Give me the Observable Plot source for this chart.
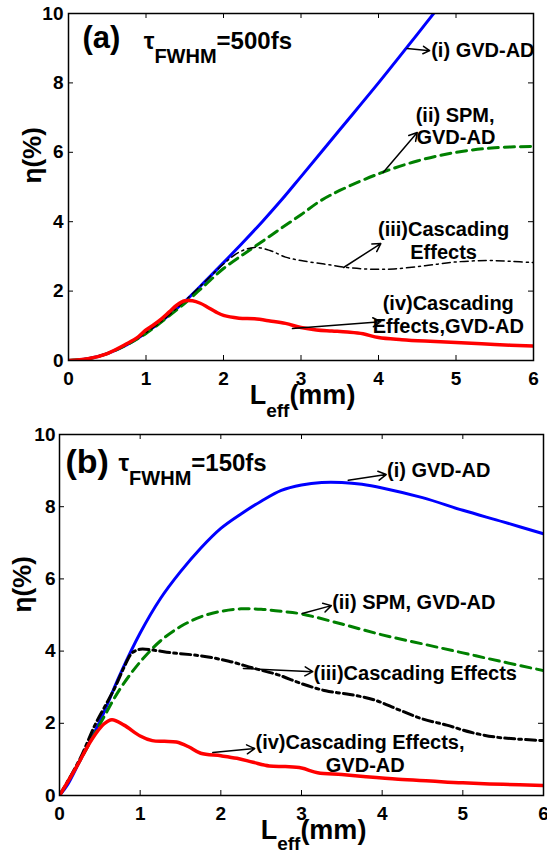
<!DOCTYPE html>
<html><head><meta charset="utf-8">
<script src="https://cdn.jsdelivr.net/npm/d3@7"></script>
<script src="https://cdn.jsdelivr.net/npm/@observablehq/plot@0.6"></script>
<style>
body{margin:0;background:#fff;width:547px;height:851px;position:relative;overflow:hidden}
#a,#b{position:absolute;left:0}
#a{top:0}
#b{top:420px}
</style></head><body><div id="a"></div><div id="b"></div>
<script>
// ---------- ticks ----------
const xTicks = [0, 1, 2, 3, 4, 5, 6];
const yTicks = [0, 2, 4, 6, 8, 10];

// ---------- panel (a) tau = 500 fs ----------
const aBlueX  = [0,0.25,0.5,0.75,1,1.25,1.5,1.75,2,2.25,2.5,2.75,3,3.5,4,4.5,4.8];
const aBlueY  = [0,0.05,0.2,0.45,0.8,1.22,1.7,2.25,2.82,3.4,4.0,4.63,5.3,6.65,8.0,9.4,10.25];
const aGreenX = [0,0.25,0.5,0.75,1,1.25,1.5,1.75,2,2.25,2.5,2.75,3,3.25,3.5,4,4.5,5,5.5,6];
const aGreenY = [0,0.05,0.2,0.45,0.78,1.2,1.65,2.15,2.65,3.05,3.43,3.82,4.2,4.6,4.9,5.38,5.75,6.0,6.13,6.17];
const aBlackX = [0,0.25,0.5,0.75,1,1.25,1.5,1.75,2,2.2,2.4,2.6,2.8,3,3.3,3.6,3.9,4.2,4.6,5,5.4,5.7,6];
const aBlackY = [0,0.05,0.2,0.45,0.8,1.22,1.72,2.25,2.78,3.12,3.26,3.17,2.98,2.88,2.78,2.68,2.63,2.64,2.73,2.84,2.88,2.86,2.82];
const aRedX   = [0,0.25,0.5,0.75,0.9,1,1.1,1.2,1.3,1.4,1.5,1.6,1.7,1.8,1.9,2,2.2,2.4,2.6,2.8,3,3.2,3.4,3.6,3.8,4,4.3,4.6,5,5.5,6];
const aRedY   = [0,0.05,0.2,0.48,0.68,0.88,1.03,1.2,1.4,1.6,1.72,1.72,1.65,1.53,1.4,1.3,1.22,1.2,1.14,1.07,0.95,0.88,0.85,0.82,0.77,0.66,0.6,0.56,0.52,0.46,0.42];

const aLabelText = ["(i) GVD-AD", "(ii) SPM,", "GVD-AD", "(iii)Cascading", "Effects", "(iv)Cascading", "Effects,GVD-AD"];
const aLabelX    = [4.68, 4.48, 4.49, 4.84, 4.84, 4.9, 4.9];
const aLabelY    = [8.93, 7.06, 6.43, 3.78, 3.11, 1.64, 0.98];
const aLabelAnchor = ["start", "start", "start", "middle", "middle", "middle", "middle"];
const aArrowX1 = [4.37, 4.06, 3.55, 2.89];
const aArrowY1 = [8.99, 5.42, 2.68, 0.92];
const aArrowX2 = [4.66, 4.5, 4.03, 4.03];
const aArrowY2 = [8.93, 6.57, 3.37, 1.12];

// ---------- panel (b) tau = 150 fs ----------
const bBlueX  = [0,0.1,0.25,0.5,0.75,1,1.25,1.5,1.75,2,2.25,2.5,2.75,3,3.25,3.5,3.75,4,4.5,5,5.5,6];
const bBlueY  = [0,0.3,0.95,2.05,3.35,4.5,5.45,6.2,6.85,7.4,7.8,8.15,8.45,8.6,8.67,8.67,8.62,8.52,8.25,7.9,7.58,7.25];
const bGreenX = [0,0.25,0.5,0.75,1,1.25,1.5,1.75,2,2.25,2.5,2.75,3,3.5,4,4.5,5,5.5,6];
const bGreenY = [0,0.95,1.97,2.95,3.7,4.28,4.68,4.95,5.1,5.17,5.16,5.1,5.03,4.75,4.45,4.2,3.95,3.7,3.46];
const bBlackX = [0,0.25,0.45,0.6,0.7,0.8,0.9,1,1.15,1.4,1.75,2.1,2.4,2.7,3,3.3,3.6,3.9,4.2,4.5,4.8,5.1,5.4,5.7,6];
const bBlackY = [0,1.0,2.0,2.62,3.05,3.55,3.95,4.05,4.03,3.95,3.87,3.72,3.53,3.35,3.1,2.9,2.8,2.65,2.38,2.12,1.95,1.75,1.62,1.56,1.52];
const bRedX   = [0,0.2,0.4,0.55,0.65,0.8,1,1.15,1.3,1.45,1.6,1.75,2,2.2,2.4,2.6,2.8,3,3.2,3.5,3.8,4.2,4.6,5,5.5,6];
const bRedY   = [0,0.75,1.55,1.98,2.1,1.95,1.65,1.52,1.5,1.48,1.35,1.17,1.1,1.03,0.92,0.82,0.8,0.76,0.63,0.58,0.52,0.45,0.4,0.35,0.31,0.28];

const bLabelText = ["(i) GVD-AD", "(ii) SPM, GVD-AD", "(iii)Cascading Effects", "(iv)Cascading Effects,", "GVD-AD"];
const bLabelX    = [4.06, 3.38, 3.15, 2.43, 3.79];
const bLabelY    = [9.0, 5.35, 3.38, 1.47, 0.83];
const bLabelAnchor = ["start", "start", "start", "start", "middle"];
const bArrowX1 = [3.58, 3.01, 2.28, 1.9];
const bArrowY1 = [8.73, 5.04, 3.52, 1.19];
const bArrowX2 = [4.05, 3.37, 3.14, 2.42];
const bArrowY2 = [8.89, 5.26, 3.43, 1.30];

const yLabel = "η(%)";
const xLabel = "L_{eff}(mm)";

const BLUE = "#0000ff", GREEN = "#008000", RED = "#ff0000", BLACK = "#000000";

function pts(X, Y) { return X.map((x, i) => ({x, y: Y[i]})); }
function rows(T, X, Y, A) { return T.map((t, i) => ({t, x: X[i], y: Y[i], a: A[i]})); }
function arrows(X1, Y1, X2, Y2) { return X1.map((x1, i) => ({x1, y1: Y1[i], x2: X2[i], y2: Y2[i]})); }

function subscriptify(svg, specs) {
  svg.querySelectorAll("text").forEach(t => {
    const s = t.textContent;
    const m = /^(.*?)_\{(.*?)\}(.*)$/.exec(s);
    if (!m || t.children.length) return;
    const spec = specs[s];
    if (!spec) return;
    t.textContent = "";
    const ns = "http://www.w3.org/2000/svg";
    const t1 = document.createElementNS(ns, "tspan"); t1.textContent = m[1];
    const t2 = document.createElementNS(ns, "tspan"); t2.textContent = m[2];
    t2.setAttribute("font-size", spec.sub); t2.setAttribute("dy", spec.shift);
    const t3 = document.createElementNS(ns, "tspan"); t3.textContent = m[3];
    t3.setAttribute("dy", -spec.shift);
    t.append(t1, t2, t3);
  });
}

function panel(o) {
  const ph = o.height - o.mt - o.mb, pw = 547 - o.ml - o.mr;
  const marks = [];
  for (const s of o.series) {
    marks.push(Plot.line(pts(s.X, s.Y), {x: "x", y: "y", stroke: s.color, strokeWidth: s.w,
      strokeDasharray: s.dash, curve: "catmull-rom", clip: true}));
  }
  marks.push(
    Plot.frame({stroke: "black", strokeWidth: 1.5}),
    Plot.tickX(xTicks, {x: d => d, insetTop: ph - 5, stroke: "black", strokeWidth: 1}),
    Plot.tickX(xTicks, {x: d => d, insetBottom: ph - 5, stroke: "black", strokeWidth: 1}),
    Plot.tickY(yTicks, {y: d => d, insetRight: pw - 5, stroke: "black", strokeWidth: 1}),
    Plot.tickY(yTicks, {y: d => d, insetLeft: pw - 5, stroke: "black", strokeWidth: 1}),
    Plot.axisX({ticks: xTicks, tickSize: 0, tickPadding: o.xPad, fontSize: 19, fontWeight: "bold", label: null, tickFormat: d => String(d)}),
    Plot.axisY({ticks: yTicks, tickSize: 0, tickPadding: o.yPad, fontSize: 19, fontWeight: "bold", label: null, tickFormat: d => String(d)}),
    Plot.arrow(o.arrows, {x1: "x1", y1: "y1", x2: "x2", y2: "y2", stroke: "black", strokeWidth: 1.5, headLength: 9}),
    Plot.text(o.labels.filter(d => d.a === "start"), {x: "x", y: "y", text: "t", textAnchor: "start", fontSize: 20, fontWeight: "bold", fill: "black"}),
    Plot.text(o.labels.filter(d => d.a === "middle"), {x: "x", y: "y", text: "t", textAnchor: "middle", fontSize: 20, fontWeight: "bold", fill: "black"}),
    Plot.text([o.tag], {x: d => d.x, y: d => d.y, text: d => d.t, textAnchor: "start", lineAnchor: "bottom", fontSize: o.tagSize, fontWeight: "bold"}),
    Plot.text([o.tau], {x: d => d.x, y: d => d.y, text: d => d.t, textAnchor: "start", lineAnchor: "bottom", fontSize: 24, fontWeight: "bold"}),
    Plot.text([yLabel], {frameAnchor: "left", rotate: -90, dx: o.ylDx, dy: o.ylDy, lineAnchor: "bottom", fontSize: 26, fontWeight: "bold"}),
    Plot.text([xLabel], {frameAnchor: "bottom", dx: o.xlDx, dy: o.xlDy, lineAnchor: "bottom", textAnchor: "middle", fontSize: 27, fontWeight: "bold"})
  );
  const svg = Plot.plot({
    width: 547, height: o.height,
    marginTop: o.mt, marginBottom: o.mb, marginLeft: o.ml, marginRight: o.mr,
    x: {domain: [0, 6], label: null},
    y: {domain: [0, 10], label: null},
    style: {fontFamily: "'Liberation Sans', Arial, sans-serif", fontWeight: "bold", fontSize: "19px", overflow: "visible", background: "white", color: "black"},
    marks
  });
  subscriptify(svg, {
    [xLabel]: {sub: 19, shift: o.xSubShift},
    [o.tau.t]: {sub: 20, shift: 14}
  });
  document.getElementById(o.el).appendChild(svg);
}

panel({
  el: "a", height: 420, mt: 13, mb: 60, ml: 68, mr: 14, xPad: 11, yPad: 5,
  series: [
    {X: aBlueX, Y: aBlueY, color: BLUE, w: 3},
    {X: aGreenX, Y: aGreenY, color: GREEN, w: 3, dash: "10,6"},
    {X: aBlackX, Y: aBlackY, color: BLACK, w: 1.5, dash: "8,4,2,4"},
    {X: aRedX, Y: aRedY, color: RED, w: 3.5}
  ],
  labels: rows(aLabelText, aLabelX, aLabelY, aLabelAnchor),
  arrows: arrows(aArrowX1, aArrowY1, aArrowX2, aArrowY2),
  tag: {t: "(a)", x: 0.18, y: 9.02}, tagSize: 31,
  tau: {t: "τ_{FWHM}=500fs", x: 0.97, y: 8.99},
  ylDx: -28, ylDy: -3.5, xlDx: 1.5, xlDy: 43, xSubShift: 13
});

panel({
  el: "b", height: 431, mt: 14, mb: 56, ml: 59, mr: 4, xPad: 11, yPad: 4,
  series: [
    {X: bBlueX, Y: bBlueY, color: BLUE, w: 3},
    {X: bGreenX, Y: bGreenY, color: GREEN, w: 3, dash: "10,6"},
    {X: bBlackX, Y: bBlackY, color: BLACK, w: 3, dash: "10,4,3,4"},
    {X: bRedX, Y: bRedY, color: RED, w: 3.5}
  ],
  labels: rows(bLabelText, bLabelX, bLabelY, bLabelAnchor),
  arrows: arrows(bArrowX1, bArrowY1, bArrowX2, bArrowY2),
  tag: {t: "(b)", x: 0.074, y: 8.92}, tagSize: 34,
  tau: {t: "τ_{FWHM}=150fs", x: 0.73, y: 9.0},
  ylDx: -29, ylDy: -2.5, xlDx: 12, xlDy: 43, xSubShift: 11
});
</script></body></html>
